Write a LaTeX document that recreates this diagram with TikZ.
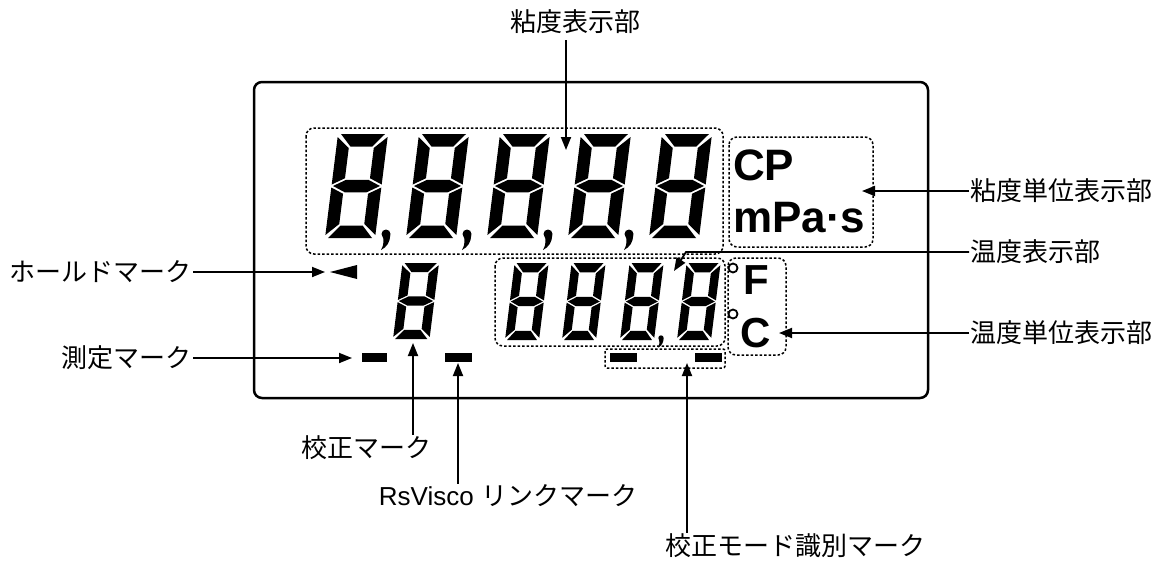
\documentclass[tikz,border=0pt]{standalone}
\usepackage{fontspec}
\setmainfont{Liberation Sans}
\newfontfamily\cjk{Noto Sans CJK JP}
\usetikzlibrary{arrows.meta}

\newcommand{\lcdsegs}{%
  \fill (3,-104) -- (47,-104) -- (36,-91.5) -- (14,-91.5) -- cycle;
  \fill (0,-101) -- (12.5,-90) -- (12.5,-59.75) -- (0,-53.5) -- cycle;
  \fill (50,-101) -- (37.5,-90) -- (37.5,-59.75) -- (50,-53.5) -- cycle;
  \fill (1.5,-52) -- (14,-58.25) -- (36,-58.25) -- (48.5,-52) -- (36,-45.75) -- (14,-45.75) -- cycle;
  \fill (0,-50.5) -- (12.5,-44.25) -- (12.5,-14) -- (0,-3) -- cycle;
  \fill (50,-50.5) -- (37.5,-44.25) -- (37.5,-14) -- (50,-3) -- cycle;
  \fill (3,0) -- (47,0) -- (36,-12.5) -- (14,-12.5) -- cycle;
}
\newcommand{\lcddigit}[4]{%
  \begin{scope}[shift={(#1,#2)}, xslant=0.125, xscale=#3, yscale=#4]
    \lcdsegs
  \end{scope}}
\newcommand{\lcdcomma}[3]{%
  \begin{scope}[shift={(#1,#2)}, scale=#3]
    \fill (0,0) circle (4.5);
    \fill (-3.5,1) -- (4.3,1) .. controls (4,8) and (1,13) .. (-5,16) .. controls (-2,11) and (-2,6) .. cycle;
  \end{scope}}

\begin{document}
\begin{tikzpicture}[x=1pt, y=-1pt,
  lbl/.style={inner sep=1pt, font=\fontsize{26}{30}\selectfont},
  arr/.style={line width=1.8pt, -{Triangle[length=13pt,width=10pt]}},
  dotbox/.style={line width=1.5pt, dash pattern=on 2.5pt off 2pt, rounded corners=8pt},
  unitfont/.style={inner sep=0pt, font=\fontsize{44}{50}\selectfont\bfseries},
  degfont/.style={inner sep=0pt, font=\fontsize{42}{48}\selectfont\bfseries},
  bar/.style={fill=black}]
\useasboundingbox (0,0) rectangle (1168,562);

% outer panel
\draw[line width=2.5pt, rounded corners=8pt] (254,82) rectangle (928,398);

% dotted groups
\draw[dotbox] (306,128) rectangle (723,254);
\draw[dotbox] (729,137) rectangle (873,247);
\draw[dotbox] (495,258) rectangle (725,346);
\draw[dotbox] (728,258) rectangle (786,355);
\draw[dotbox, rounded corners=2pt] (605,349) rectangle (725,368);

% viscosity digits
\lcddigit{325}{238}{1}{1}
\lcddigit{406}{238}{1}{1}
\lcddigit{487}{238}{1}{1}
\lcddigit{568}{238}{1}{1}
\lcddigit{649}{238}{1}{1}
\lcdcomma{386}{234}{1}
\lcdcomma{467}{234}{1}
\lcdcomma{548}{234}{1}
\lcdcomma{629}{234}{1}

% hold digit
\lcddigit{393}{339}{0.73}{0.73}

% temperature digits
\lcddigit{505}{340}{0.68}{0.74}
\lcddigit{562}{340}{0.68}{0.74}
\lcddigit{620}{340}{0.68}{0.74}
\lcddigit{677}{340}{0.68}{0.74}
\lcdcomma{661}{338}{0.6}

% marks
\fill (330,272) -- (357,265) -- (357,279) -- cycle;
\fill[bar] (362,353) rectangle (387,362);
\fill[bar] (445,353) rectangle (472,362);
\fill[bar] (610,353) rectangle (637,362);
\fill[bar] (695,353) rectangle (722,362);

% units
\node[unitfont, anchor=base west] (unitCP) at (733,180) {CP};
\node[unitfont, anchor=base west] (unitMPa) at (733,232) {mPa·s};
\draw[line width=1.8pt] (733,268) circle (4.5);
\draw[line width=1.8pt] (733,314) circle (4.5);
\node[degfont, anchor=base west] (unitF) at (743,294) {F};
\node[degfont, anchor=base west] (unitC) at (740,347) {C};

% labels
\node[lbl] (lblVis) at (575,22) {\cjk 粘度表示部};
\node[lbl, anchor=west] (lblVisU) at (969,191) {\cjk 粘度単位表示部};
\node[lbl, anchor=west] (lblTemp) at (969,252) {\cjk 温度表示部};
\node[lbl, anchor=west] (lblTempU) at (969,333) {\cjk 温度単位表示部};
\node[lbl, anchor=east] (lblHold) at (193,272) {\cjk ホールドマーク};
\node[lbl, anchor=east] (lblMeas) at (193,358) {\cjk 測定マーク};
\node[lbl] (lblCal) at (366,448) {\cjk 校正マーク};
\node[lbl] (lblLink) at (508,496) {\fontsize{26}{30}\selectfont RsVisco {\cjk\fontsize{26}{30}\selectfont リンクマーク}};
\node[lbl] (lblMode) at (795,546) {\cjk 校正モード識別マーク};

% target points
\coordinate (visTip) at (566,150);
\coordinate (visUTip) at (862,191);
\coordinate (tempBend) at (686,252);
\coordinate (tempTip) at (674,271);
\coordinate (tempUTip) at (779,333);
\coordinate (holdTip) at (325,272);
\coordinate (measTip) at (352,358);
\coordinate (calTip) at (413,343);
\coordinate (linkTip) at (458,363);
\coordinate (modeTip) at (687,363);

% connectors
\draw[arr, shorten <=5pt] (lblVis.south -| visTip) -- (visTip);
\draw[arr] (lblVisU.west) -- (visUTip);
\draw[arr] (lblTemp.west) -- (tempBend) -- (tempTip);
\draw[arr] (lblTempU.west) -- (tempUTip);
\draw[arr] (lblHold.east) -- (holdTip);
\draw[arr] (lblMeas.east) -- (measTip);
\draw[arr] (lblCal.north -| calTip) -- (calTip);
\draw[arr] (lblLink.north -| linkTip) -- (linkTip);
\draw[arr] (lblMode.north -| modeTip) -- (modeTip);
\end{tikzpicture}
\end{document}
